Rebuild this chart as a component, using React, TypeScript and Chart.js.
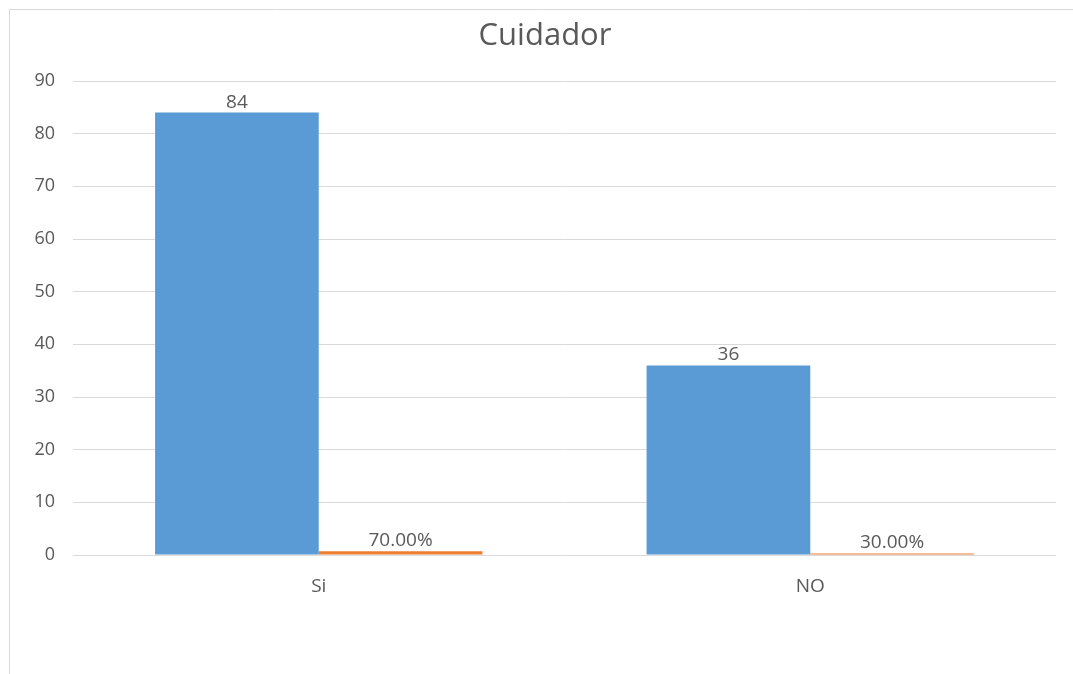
import React, { useEffect, useRef } from "react";
import { Chart, registerables } from "chart.js";

Chart.register(...registerables);

const title = "Cuidador";
const categories = ["Si", "NO"];
const counts = [84, 36];
const shares = [0.7, 0.3];
const shareLabels = ["70.00%", "30.00%"];
const yTicks = [0, 10, 20, 30, 40, 50, 60, 70, 80, 90];

const TEXT = "#595959";
const FONT = "'Open Sans', 'Noto Sans', sans-serif";

const frame = {
  id: "frame",
  beforeDraw(chart: any) {
    const { ctx, width, height } = chart;
    ctx.save();
    ctx.fillStyle = "#ffffff";
    ctx.fillRect(0, 0, width, height);
    ctx.strokeStyle = "#d9d9d9";
    ctx.lineWidth = 1;
    ctx.beginPath();
    ctx.moveTo(9.5, height);
    ctx.lineTo(9.5, 9.5);
    ctx.lineTo(width, 9.5);
    ctx.stroke();
    ctx.fillStyle = TEXT;
    ctx.font = `31px ${FONT}`;
    ctx.textAlign = "center";
    ctx.textBaseline = "alphabetic";
    ctx.fillText(title, 545, 45);
    ctx.restore();
  },
};

const labelsPlugin = {
  id: "valueLabels",
  afterDatasetsDraw(chart: any) {
    const { ctx } = chart;
    ctx.save();
    ctx.font = `19px ${FONT}`;
    ctx.fillStyle = TEXT;
    ctx.textAlign = "center";
    ctx.textBaseline = "alphabetic";
    chart.data.datasets.forEach((ds: any, di: number) => {
      const meta = chart.getDatasetMeta(di);
      meta.data.forEach((el: any, i: number) => {
        const txt = di === 0 ? String(ds.data[i]) : shareLabels[i];
        ctx.fillText(txt, el.x, el.y - 5);
      });
    });
    ctx.restore();
  },
};

export default function App() {
  const ref = useRef<HTMLCanvasElement>(null);
  useEffect(() => {
    if (!ref.current) return;
    const chart = new Chart(ref.current, {
      type: "bar",
      data: {
        labels: categories,
        datasets: [
          {
            label: "Cantidad",
            data: counts,
            backgroundColor: "#5B9BD5",
            borderWidth: 0,
            barPercentage: 1,
            categoryPercentage: 0.666,
          },
          {
            label: "Porcentaje",
            data: shares,
            backgroundColor: "#ED7D31",
            borderWidth: 0,
            barPercentage: 1,
            categoryPercentage: 0.666,
          },
        ],
      },
      options: {
        animation: false,
        responsive: false,
        maintainAspectRatio: false,
        layout: { padding: { left: 0, right: 17, top: 81, bottom: 0 } },
        plugins: {
          legend: { display: false },
          tooltip: { enabled: false },
          title: { display: false },
        },
        scales: {
          x: {
            grid: { display: false, drawTicks: false },
            border: { display: false },
            ticks: { color: TEXT, font: { family: FONT, size: 19 }, padding: 20 },
            afterFit: (s: any) => {
              s.height = 119;
            },
          },
          y: {
            min: 0,
            max: 90,
            afterBuildTicks: (s: any) => {
              s.ticks = yTicks.map((v) => ({ value: v }));
            },
            grid: { color: "#d9d9d9", drawTicks: false, lineWidth: 1 },
            border: { display: false },
            ticks: { color: TEXT, font: { family: FONT, size: 18 }, padding: 18 },
            afterFit: (s: any) => {
              s.width = 73;
            },
          },
        },
      },
      plugins: [frame, labelsPlugin],
    });
    return () => chart.destroy();
  }, []);
  return (
    <div style={{ position: "fixed", left: 0, top: 0, width: 1073, height: 674 }}>
      <canvas ref={ref} width={1073} height={674} style={{ width: 1073, height: 674, display: "block" }} />
    </div>
  );
}
